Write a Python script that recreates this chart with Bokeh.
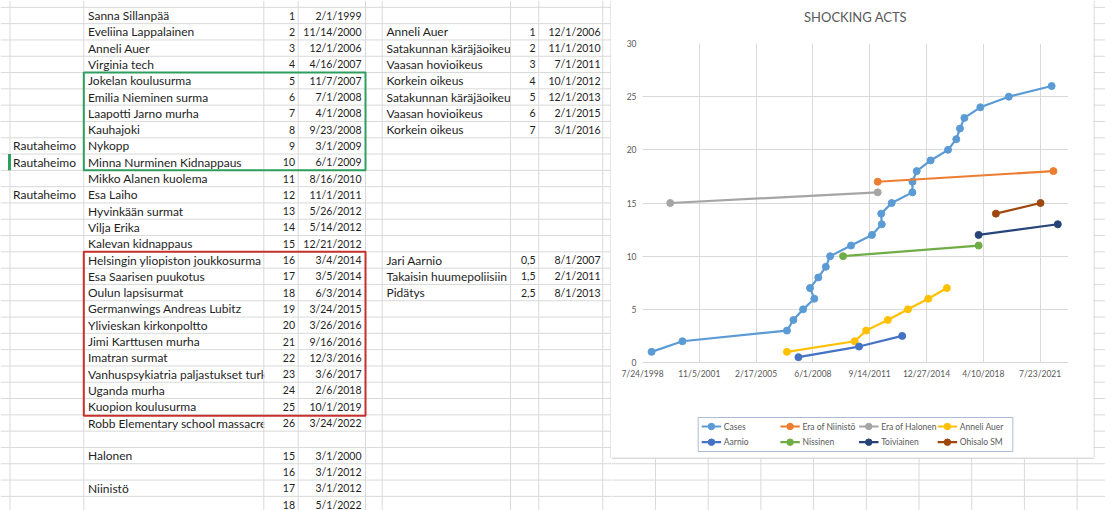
from datetime import datetime
from bokeh.plotting import figure
from bokeh.layouts import row, column
from bokeh.models import Range1d, FixedTicker, DatetimeTickFormatter
from bokeh.core.properties import value
from bokeh.embed import file_html
from bokeh.resources import INLINE

# ---------------- data ----------------
case_tags = ["", "", "", "", "", "", "", "", "Rautaheimo", "Rautaheimo", "", "Rautaheimo",
             "", "", "", "", "", "", "", "", "", "", "", "", "", ""]
case_names = ["Sanna Sillanpää", "Eveliina Lappalainen", "Anneli Auer", "Virginia tech",
              "Jokelan koulusurma", "Emilia Nieminen surma", "Laapotti Jarno murha", "Kauhajoki",
              "Nykopp", "Minna Nurminen Kidnappaus", "Mikko Alanen kuolema", "Esa Laiho",
              "Hyvinkään surmat", "Vilja Erika", "Kalevan kidnappaus",
              "Helsingin yliopiston joukkosurma", "Esa Saarisen puukotus", "Oulun lapsisurmat",
              "Germanwings Andreas Lubitz", "Ylivieskan kirkonpoltto", "Jimi Karttusen murha",
              "Imatran surmat", "Vanhuspsykiatria paljastukset turk", "Uganda murha",
              "Kuopion koulusurma", "Robb Elementary school massacre"]
case_counts = [1, 2, 3, 4, 5, 6, 7, 8, 9, 10, 11, 12, 13, 14, 15, 16, 17, 18, 19, 20,
               21, 22, 23, 24, 25, 26]
case_dates = ["2/1/1999", "11/14/2000", "12/1/2006", "4/16/2007", "11/7/2007", "7/1/2008",
              "4/1/2008", "9/23/2008", "3/1/2009", "6/1/2009", "8/16/2010", "11/1/2011",
              "5/26/2012", "5/14/2012", "12/21/2012", "3/4/2014", "3/5/2014", "6/3/2014",
              "3/24/2015", "3/26/2016", "9/16/2016", "12/3/2016", "3/6/2017", "2/6/2018",
              "10/1/2019", "3/24/2022"]

era_names = ["Halonen", "", "Niinistö", ""]
era_counts = [15, 16, 17, 18]
era_dates = ["3/1/2000", "3/1/2012", "3/1/2012", "5/1/2022"]

auer_steps = ["Anneli Auer", "Satakunnan käräjäoikeus", "Vaasan hovioikeus", "Korkein oikeus",
              "Satakunnan käräjäoikeus", "Vaasan hovioikeus", "Korkein oikeus"]
auer_counts = [1, 2, 3, 4, 5, 6, 7]
auer_dates = ["12/1/2006", "11/1/2010", "7/1/2011", "10/1/2012", "12/1/2013", "2/1/2015", "3/1/2016"]

aarnio_steps = ["Jari Aarnio", "Takaisin huumepoliisiin", "Pidätys"]
aarnio_counts = [0.5, 1.5, 2.5]
aarnio_dates = ["8/1/2007", "2/1/2011", "8/1/2013"]

nissinen_counts = [10, 11]
nissinen_dates = ["3/1/2010", "1/1/2018"]
toiviainen_counts = [12, 13]
toiviainen_dates = ["1/1/2018", "8/1/2022"]
ohisalo_counts = [14, 15]
ohisalo_dates = ["1/1/2019", "8/1/2021"]

chart_title = "SHOCKING ACTS"
x_tick_dates = ["7/24/1998", "11/5/2001", "2/17/2005", "6/1/2008", "9/14/2011",
                "12/27/2014", "4/10/2018", "7/23/2021"]
x_end_date = "3/15/2023"
y_ticks = [0, 5, 10, 15, 20, 25, 30]

# ---------------- helpers ----------------
def d(s):
    return datetime.strptime(s, "%m/%d/%Y")

EPOCH = datetime(1970, 1, 1)
def ms(s):
    return (d(s) - EPOCH).total_seconds() * 1000.0

FONT = "Lato"
GRID = "#D9D9D9"
INK = "#1E1E1E"
LABEL = "#595959"
EDGE = "#CFCFCF"
ROW0, ROWH = 15.0, 16.3

def ry(i):
    return ROW0 + (i - 1) * ROWH

def rb(k):
    return ROW0 - ROWH / 2 + k * ROWH

def sheet_fig(w, h, x0, x1, y0, y1):
    f = figure(width=w, height=h, x_range=Range1d(x0, x1), y_range=Range1d(y1, y0),
               output_backend="svg", toolbar_location=None, min_border=0, title=None,
               x_axis_location=None, y_axis_location=None)
    f.grid.visible = False
    f.outline_line_color = None
    f.background_fill_color = "white"
    f.border_fill_color = "white"
    return f

def put(f, xs, ys, texts, align="left", size="12px", color=INK):
    f.text(x=xs, y=ys, text=texts, text_font=value(FONT), text_font_size=value(size),
           text_color=color, text_baseline="middle", text_align=align)

# ---------------- spreadsheet (left) ----------------
L = sheet_fig(611, 510, 0, 611, 0, 510)
colA, colB, colC, colD, colE, colF, colG, colH = 9.5, 83.3, 263.3, 297.7, 365.0, 381.7, 510.0, 538.3
col_lines = [colA, colB, colC, colD, colE, colF, colG, colH, 602.3]

tag_idx = [i for i, t in enumerate(case_tags) if t]
put(L, [12.5] * len(tag_idx), [ry(i + 1) for i in tag_idx], [case_tags[i] for i in tag_idx])
put(L, [87.5] * len(case_names), [ry(i + 1) for i in range(len(case_names))], case_names)
era_idx = [j for j, n in enumerate(era_names) if n]
put(L, [87.5] * len(era_idx), [ry(28 + j) for j in era_idx], [era_names[j] for j in era_idx])
put(L, [386] * len(auer_steps), [ry(2 + j) for j in range(len(auer_steps))], auer_steps)
put(L, [386] * len(aarnio_steps), [ry(16 + j) for j in range(len(aarnio_steps))], aarnio_steps)

# mask the number columns (emulates cell clipping of long names)
L.quad(left=[colC + 0.5, colG + 0.5], right=[colD - 0.5, colH - 0.5], top=[0, 0], bottom=[510, 510],
       fill_color="white", line_color=None)

n_rows = 32
L.segment(x0=[0] * n_rows, x1=[611] * n_rows, y0=[rb(k) for k in range(n_rows)],
          y1=[rb(k) for k in range(n_rows)], line_color=GRID, line_width=1)
L.segment(x0=col_lines, x1=col_lines, y0=[0] * len(col_lines), y1=[510] * len(col_lines),
          line_color=GRID, line_width=1)

put(L, [294.5] * len(case_counts), [ry(i + 1) for i in range(len(case_counts))],
    [str(v) for v in case_counts], "right", "10.5px")
put(L, [361] * len(case_dates), [ry(i + 1) for i in range(len(case_dates))], case_dates, "right", "10.5px")
put(L, [294.5] * len(era_counts), [ry(28 + j) for j in range(len(era_counts))],
    [str(v) for v in era_counts], "right", "10.5px")
put(L, [361] * len(era_dates), [ry(28 + j) for j in range(len(era_dates))], era_dates, "right", "10.5px")
put(L, [535] * len(auer_counts), [ry(2 + j) for j in range(len(auer_counts))],
    [str(v) for v in auer_counts], "right", "10.5px")
put(L, [600] * len(auer_dates), [ry(2 + j) for j in range(len(auer_dates))], auer_dates, "right", "10.5px")
put(L, [535] * len(aarnio_counts), [ry(16 + j) for j in range(len(aarnio_counts))],
    [f"{v:.1f}".replace(".", ",") for v in aarnio_counts], "right", "10.5px")
put(L, [600] * len(aarnio_dates), [ry(16 + j) for j in range(len(aarnio_dates))], aarnio_dates, "right", "10.5px")

L.quad(left=colB, right=colE, top=rb(4), bottom=rb(10), fill_color=None,
       line_color="#2E9E5E", line_width=2)
L.quad(left=colB, right=colE, top=rb(15), bottom=rb(25) + 1, fill_color=None,
       line_color="#C8302C", line_width=2)
L.segment(x0=[9], x1=[9], y0=[rb(9)], y1=[rb(10)], line_color="#2E9E5E", line_width=3)
L.segment(x0=[610.5], x1=[610.5], y0=[0], y1=[457.5], line_color=EDGE, line_width=1)

# ---------------- chart title strip ----------------
T = sheet_fig(482, 30, 611, 1093, 0, 30)
put(T, [852], [16], [chart_title], "center", "13px", LABEL)

# ---------------- chart ----------------
C = figure(width=482, height=365, x_axis_type="datetime", title=None,
           x_range=Range1d(d(x_tick_dates[0]), d(x_end_date)), y_range=Range1d(0, 30),
           output_backend="svg", toolbar_location=None,
           min_border_left=31, min_border_right=25, min_border_top=13, min_border_bottom=33)
C.background_fill_color = "white"
C.border_fill_color = "white"
C.outline_line_color = None

fmt = "%-m/%-d/%Y"
C.xaxis.ticker = FixedTicker(ticks=[ms(t) for t in x_tick_dates])
C.xaxis.formatter = DatetimeTickFormatter(days=fmt, months=fmt, years=fmt)
C.yaxis.ticker = FixedTicker(ticks=y_ticks)
for ax in C.axis:
    ax.major_label_text_font = FONT
    ax.major_label_text_font_size = "8.5px"
    ax.major_label_text_color = LABEL
    ax.major_tick_line_color = None
    ax.minor_tick_line_color = None
    ax.major_tick_out = 0
    ax.major_tick_in = 0
    ax.minor_tick_out = 0
    ax.minor_tick_in = 0
    ax.major_label_standoff = 6
C.yaxis.axis_line_color = None
C.xaxis.axis_line_color = GRID
C.grid.grid_line_color = GRID

series = [
    ("Cases", case_dates, case_counts, "#5B9BD5"),
    ("Era of Niinistö", era_dates[2:], era_counts[2:], "#ED7D31"),
    ("Era of Halonen", era_dates[:2], era_counts[:2], "#A5A5A5"),
    ("Anneli Auer", auer_dates, auer_counts, "#FFC000"),
    ("Aarnio", aarnio_dates, aarnio_counts, "#4472C4"),
    ("Nissinen", nissinen_dates, nissinen_counts, "#70AD47"),
    ("Toiviainen", toiviainen_dates, toiviainen_counts, "#264478"),
    ("Ohisalo SM", ohisalo_dates, ohisalo_counts, "#9E480E"),
]
for label, dates, counts, color in series:
    xs = [d(s) for s in dates]
    C.line(xs, counts, line_color=color, line_width=2.2)
    C.scatter(xs, counts, size=7, fill_color=color, line_color=color)

# ---------------- legend strip (keys in pixel layout) ----------------
G = sheet_fig(482, 62, 611, 1093, 395, 457)
G.quad(left=674, right=1030, top=417, bottom=451, fill_color="white", line_color="#A9BCD4", line_width=1)
kx = [678 + 89 * (i % 4) for i in range(len(series))]
ky = [426 + 15.7 * (i // 4) for i in range(len(series))]
cols = [s[3] for s in series]
G.segment(x0=kx, x1=[x + 22 for x in kx], y0=ky, y1=ky, line_color=cols, line_width=2.2)
G.scatter(x=[x + 11 for x in kx], y=ky, size=6.5, fill_color=cols, line_color=cols)
put(G, [x + 25 for x in kx], ky, [s[0] for s in series], "left", "8.5px", LABEL)

# ---------------- spreadsheet strips around chart ----------------
S = sheet_fig(12, 457, 1093, 1105, 0, 457)
ks = [k for k in range(n_rows) if 0 <= rb(k) <= 457]
S.segment(x0=[1093] * len(ks), x1=[1105] * len(ks), y0=[rb(k) for k in ks], y1=[rb(k) for k in ks],
          line_color=GRID, line_width=1)
S.segment(x0=[1093.5], x1=[1093.5], y0=[0], y1=[457], line_color=EDGE, line_width=1)

B = sheet_fig(494, 53, 611, 1105, 457, 510)
kb = [k for k in range(n_rows) if 457 <= rb(k) <= 510]
B.segment(x0=[611] * len(kb), x1=[1105] * len(kb), y0=[rb(k) for k in kb], y1=[rb(k) for k in kb],
          line_color=GRID, line_width=1)
bcols = [655.0 + 52.7 * j for j in range(9)]
B.segment(x0=bcols, x1=bcols, y0=[458] * len(bcols), y1=[510] * len(bcols), line_color=GRID, line_width=1)
B.segment(x0=[611], x1=[1093.5], y0=[457.5], y1=[457.5], line_color=EDGE, line_width=1.5)

layout = row(L, column(row(column(T, C, G), S), B))
open("out.html", "w").write(file_html(layout, INLINE))
